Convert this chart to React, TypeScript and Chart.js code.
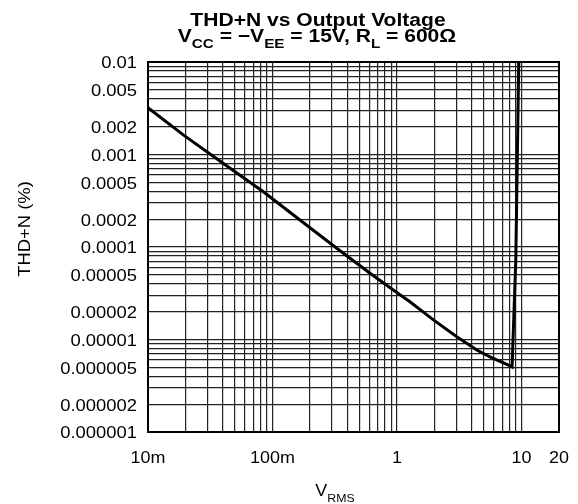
import React, { useEffect, useRef } from 'react';
import { Chart, registerables } from 'chart.js';

Chart.register(...registerables);

// Curve: THD+N (%) versus output voltage V_RMS
const VRMS = [0.01, 0.0192, 0.0403, 0.0844, 0.166, 0.328, 0.607, 0.933, 1.27, 1.96, 3.02, 4.37, 5.58, 8.09, 8.4, 9.0, 9.5];
const THDN = [0.0032, 0.00163, 0.0008, 0.000396, 0.000196, 0.000097, 0.000052, 0.0000343, 0.0000256, 0.0000163, 0.0000107, 0.0000077, 0.0000065, 0.0000052, 0.00000505, 0.000075, 0.01];

const X_TICK_VALUES = [0.01, 0.1, 1, 10, 20];
const X_TICK_LABELS = ['10m', '100m', '1', '10', '20'];
const Y_TICK_VALUES = [0.01, 0.005, 0.002, 0.001, 0.0005, 0.0002, 0.0001, 0.00005, 0.00002, 0.00001, 0.000005, 0.000002, 0.000001];
const Y_TICK_LABELS = ['0.01', '0.005', '0.002', '0.001', '0.0005', '0.0002', '0.0001', '0.00005', '0.00002', '0.00001', '0.000005', '0.000002', '0.000001'];

const X_GRID_DECADES = [0.01, 0.1, 1];
const X_GRID_EXTRA = [10, 20];
const Y_GRID_DECADES = [0.000001, 0.00001, 0.0001, 0.001];
const Y_GRID_EXTRA = [0.01];
const GRID_MULTIPLIERS = [1, 2, 3, 4, 5, 6, 7, 8, 9];

const TITLE_LINE1 = 'THD+N vs Output Voltage';
const TITLE_LINE2 = [
  { t: 'V', sub: false },
  { t: 'CC', sub: true },
  { t: ' = \u2212V', sub: false },
  { t: 'EE', sub: true },
  { t: ' = 15V, R', sub: false },
  { t: 'L', sub: true },
  { t: ' = 600\u03A9', sub: false },
];
const Y_TITLE = 'THD+N (%)';
const X_TITLE = [
  { t: 'V', sub: false },
  { t: 'RMS', sub: true },
];

const FONT = '"Liberation Sans", Arial, sans-serif';

function gridValues(decades: number[], extra: number[]) {
  const out: number[] = [];
  decades.forEach((d) => GRID_MULTIPLIERS.forEach((m) => out.push(parseFloat((d * m).toPrecision(6)))));
  return out.concat(extra);
}

function drawText(ctx: CanvasRenderingContext2D, s: string, x: number, y: number, font: string, align: CanvasTextAlign, baseline: CanvasTextBaseline, sx: number) {
  ctx.save();
  ctx.translate(x, y);
  ctx.scale(sx, 1);
  ctx.font = font;
  ctx.textAlign = align;
  ctx.textBaseline = baseline;
  ctx.fillStyle = '#000';
  ctx.fillText(s, 0, 0);
  ctx.restore();
}

function drawMixed(ctx: CanvasRenderingContext2D, parts: { t: string; sub: boolean }[], cx: number, baseY: number, bigFont: string, smallFont: string, subDrop: number, sx: number) {
  ctx.save();
  const widths = parts.map((p) => {
    ctx.font = p.sub ? smallFont : bigFont;
    return ctx.measureText(p.t).width * sx;
  });
  const total = widths.reduce((a, b) => a + b, 0);
  let x = cx - total / 2;
  parts.forEach((p, i) => {
    drawText(ctx, p.t, x, baseY + (p.sub ? subDrop : 0), p.sub ? smallFont : bigFont, 'left', 'alphabetic', sx);
    x += widths[i];
  });
  ctx.restore();
}

const textPlugin = {
  id: 'customText',
  afterDraw(chart: any) {
    const ctx: CanvasRenderingContext2D = chart.ctx;
    const { left, right, top, bottom } = chart.chartArea;
    const xs = chart.scales.x;
    const ys = chart.scales.y;
    // frame
    ctx.save();
    ctx.strokeStyle = '#000';
    ctx.lineWidth = 2;
    ctx.strokeRect(left, top, right - left, bottom - top);
    ctx.restore();
    // title
    drawText(ctx, TITLE_LINE1, 318, 26, `bold 18px ${FONT}`, 'center', 'alphabetic', 1.17);
    drawMixed(ctx, TITLE_LINE2, 317, 42, `bold 18px ${FONT}`, `bold 13px ${FONT}`, 6, 1.17);
    // y tick labels
    Y_TICK_VALUES.forEach((v, i) => {
      drawText(ctx, Y_TICK_LABELS[i], 137, ys.getPixelForValue(v) + 2, `16px ${FONT}`, 'right', 'middle', 1.15);
    });
    // x tick labels
    X_TICK_VALUES.forEach((v, i) => {
      drawText(ctx, X_TICK_LABELS[i], xs.getPixelForValue(v), 459, `16px ${FONT}`, 'center', 'middle', 1.12);
    });
    // x title
    drawMixed(ctx, X_TITLE, 335, 496, `16px ${FONT}`, `11px ${FONT}`, 6, 1.12);
    // y title
    ctx.save();
    ctx.translate(26, 229);
    ctx.rotate(-Math.PI / 2);
    ctx.scale(1.15, 1);
    ctx.font = `16px ${FONT}`;
    ctx.textAlign = 'center';
    ctx.textBaseline = 'middle';
    ctx.fillStyle = '#000';
    ctx.fillText(Y_TITLE, 0, 0);
    ctx.restore();
  },
};

export default function App() {
  const ref = useRef<HTMLCanvasElement>(null);
  useEffect(() => {
    if (!ref.current) return;
    const xGrid = gridValues(X_GRID_DECADES, X_GRID_EXTRA);
    const yGrid = gridValues(Y_GRID_DECADES, Y_GRID_EXTRA);
    const chart = new Chart(ref.current, {
      type: 'line',
      data: {
        datasets: [
          {
            data: VRMS.map((x, i) => ({ x, y: THDN[i] })),
            borderColor: '#000',
            borderWidth: 3,
            pointRadius: 0,
            tension: 0,
            fill: false,
          },
        ],
      },
      options: {
        animation: false,
        responsive: false,
        devicePixelRatio: 1,
        layout: { padding: { left: 148, right: 19, top: 62, bottom: 72 } },
        plugins: { legend: { display: false }, tooltip: { enabled: false }, title: { display: false } },
        scales: {
          x: {
            type: 'logarithmic',
            min: 0.01,
            max: 20,
            afterBuildTicks: (s: any) => {
              s.ticks = xGrid.map((value) => ({ value }));
            },
            ticks: { display: false },
            grid: { color: '#222', lineWidth: 1.2, drawTicks: false },
            border: { display: false },
          },
          y: {
            type: 'logarithmic',
            min: 0.000001,
            max: 0.01,
            afterBuildTicks: (s: any) => {
              s.ticks = yGrid.map((value) => ({ value }));
            },
            ticks: { display: false },
            grid: { color: '#222', lineWidth: 1.2, drawTicks: false },
            border: { display: false },
          },
        },
      },
      plugins: [textPlugin],
    } as any);
    return () => chart.destroy();
  }, []);
  return (
    <div style={{ position: 'absolute', left: 0, top: 0, width: 578, height: 504, background: '#fff' }}>
      <canvas ref={ref} width={578} height={504} />
    </div>
  );
}
